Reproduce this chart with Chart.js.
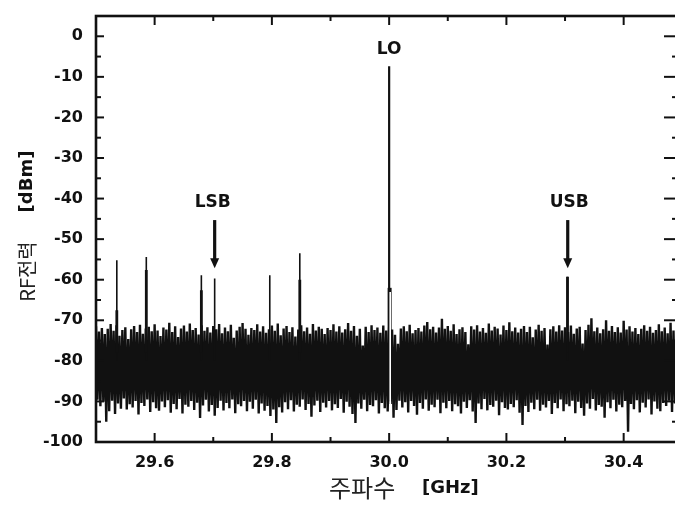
<!DOCTYPE html>
<html><head><meta charset="utf-8">
<script src="https://cdn.jsdelivr.net/npm/chart.js@4.4.0/dist/chart.umd.min.js"></script>
<style>html,body{margin:0;padding:0;background:#fff;overflow:hidden;width:675px;height:509px}canvas{display:block}</style>
</head><body>
<canvas id="c" width="684" height="509"></canvas>
<script>
// ---------------- data ----------------
const freqStart = 29.5;     // GHz, first noise sample
const freqStep = 0.005;     // GHz between noise samples
const noiseTop = [
-71.5,-72.8,-71.9,-73.4,-72.1,-70.9,-72.6,-71.2,-73.8,-72.4,-71.7,-74.6,-72.2,-71.4,-72.9,-71.1,-73.3,-72.0,-71.6,-72.7,
-71.0,-72.5,-73.9,-71.8,-72.3,-70.6,-72.9,-71.5,-74.1,-72.0,-71.3,-72.8,-70.8,-72.4,-71.9,-73.5,-71.2,-72.6,-71.7,-73.0,
-71.4,-72.2,-70.9,-73.2,-71.8,-72.7,-71.1,-74.3,-72.5,-71.6,-70.7,-72.1,-73.6,-71.9,-72.4,-71.0,-72.8,-71.5,-73.1,-72.2,
-71.3,-72.6,-70.8,-73.7,-72.0,-71.4,-72.9,-71.7,-74.0,-72.3,-71.2,-72.7,-71.8,-73.3,-70.9,-72.5,-71.6,-72.1,-73.4,-71.9,
-72.4,-71.0,-72.8,-71.5,-73.0,-72.2,-70.7,-72.6,-71.4,-73.8,-72.1,-76.2,-71.6,-72.9,-71.2,-72.4,-71.8,-73.1,-71.3,-72.5,
-71.7,-72.3,-73.6,-75.8,-72.0,-71.5,-72.7,-71.1,-73.2,-72.4,-71.9,-72.8,-71.3,-70.4,-72.2,-71.6,-73.0,-71.8,-69.6,-72.1,
-71.4,-72.6,-71.0,-73.4,-72.2,-71.7,-72.9,-75.9,-71.5,-72.3,-71.2,-72.8,-71.9,-73.1,-70.8,-72.5,-71.6,-72.0,-73.5,-71.3,
-72.4,-70.5,-72.7,-71.8,-73.0,-72.1,-71.4,-72.9,-71.6,-74.2,-72.3,-71.1,-72.6,-71.9,-76.0,-72.2,-71.5,-72.8,-71.2,-72.5,
-71.7,-72.9,-71.3,-73.3,-72.0,-71.6,-75.7,-72.4,-71.1,-69.5,-72.7,-71.8,-73.2,-72.2,-70.0,-72.6,-71.4,-72.9,-71.7,-73.0,
-70.1,-72.3,-71.5,-72.8,-71.9,-73.4,-72.1,-71.2,-72.6,-71.6,-73.1,-72.4,-71.0,-72.7,-71.8,-73.2,-70.6,-72.5,-71.4,-72.0
];
const noiseBottom = [
-89.6,-91.2,-90.1,-95.0,-92.4,-89.8,-93.1,-90.5,-91.8,-89.3,-92.0,-90.7,-91.5,-89.9,-93.2,-90.4,-91.1,-89.5,-92.6,-90.2,
-91.7,-92.3,-90.0,-91.4,-89.7,-92.8,-90.6,-91.9,-89.4,-93.0,-90.8,-91.3,-89.9,-92.1,-90.3,-94.1,-91.0,-89.6,-92.5,-90.9,
-93.5,-91.6,-89.8,-92.2,-90.4,-91.7,-89.5,-92.9,-90.7,-91.2,-89.9,-92.4,-90.1,-91.8,-89.6,-93.0,-90.5,-92.3,-91.1,-93.6,
-92.0,-95.3,-91.4,-92.7,-90.2,-91.9,-89.7,-92.5,-90.8,-91.3,-89.5,-92.1,-90.6,-93.8,-91.0,-89.8,-92.6,-90.3,-91.5,-89.9,
-92.2,-90.7,-91.6,-89.4,-92.8,-90.1,-91.3,-93.1,-95.3,-90.5,-91.8,-89.6,-92.4,-90.9,-91.2,-89.7,-93.0,-90.4,-91.7,-92.5,
-90.6,-94.0,-92.1,-89.8,-91.5,-90.2,-92.7,-89.9,-91.1,-93.3,-90.4,-91.8,-89.5,-92.3,-90.8,-91.4,-89.6,-92.9,-90.3,-91.7,
-89.9,-92.4,-90.7,-91.2,-93.0,-90.1,-91.6,-89.7,-92.5,-95.3,-90.5,-91.9,-89.4,-92.2,-90.9,-91.3,-89.8,-93.4,-90.2,-91.6,
-92.0,-90.6,-91.4,-89.7,-92.8,-95.8,-91.1,-92.6,-90.3,-91.9,-89.6,-92.3,-90.8,-91.5,-89.9,-93.1,-90.4,-91.7,-89.5,-92.4,
-90.7,-91.2,-89.8,-92.9,-90.1,-91.6,-93.5,-90.5,-91.8,-89.4,-92.2,-90.9,-91.3,-94.0,-90.2,-91.7,-89.6,-92.5,-90.8,-91.4,
-89.9,-97.5,-90.6,-91.9,-89.7,-92.7,-90.3,-91.5,-89.5,-93.2,-90.0,-91.8,-92.4,-90.4,-91.1,-89.8,-92.6,-90.5,-91.3,-89.6
];
const spikeFreq     = [29.5355, 29.5858, 29.6797, 29.7024, 29.7964, 29.8476, 30.3042];
const spikeLevel    = [-55.2,   -54.4,   -58.9,   -59.7,   -58.9,   -53.5,   -59.3];
const spikeShoulder = [-67.5,   -57.6,   -62.6,   null,    null,    -60.0,   -59.3];
const loFreq = 30.0;
const loLevel = -7.4;
const loNotch = [-63, -93];       // white gap in the noise next to the LO
const xTickValues = [29.6, 29.8, 30.0, 30.2, 30.4];
const xMinorValues = [29.5, 29.7, 29.9, 30.1, 30.3];
const yTickValues = [0, -10, -20, -30, -40, -50, -60, -70, -80, -90, -100];
const yMinorValues = [-5, -15, -25, -35, -45, -55, -65, -75, -85, -95];
const markerTexts = ['LO', 'LSB', 'USB'];
const arrowFreq = [29.7024, 30.3046];

// ---------------- build datasets ----------------
const noisePts = [];
for (let i = 0; i < noiseTop.length; i++) {
  noisePts.push({x: freqStart + i * freqStep, y: noiseTop[i]});
  noisePts.push({x: freqStart + (i + 0.5) * freqStep, y: noiseBottom[i]});
}
const spikePts = [], shoulderPts = [];
spikeFreq.forEach((f, i) => {
  spikePts.push({x: f, y: -80}, {x: f, y: spikeLevel[i]}, {x: f, y: null});
  if (spikeShoulder[i] !== null) shoulderPts.push({x: f, y: -78}, {x: f, y: spikeShoulder[i]}, {x: f, y: null});
});
const loPts = [{x: loFreq, y: -82}, {x: loFreq, y: loLevel}];
const loWidePts = [{x: loFreq + 0.0008, y: -90}, {x: loFreq + 0.0008, y: -62}];
const notchPts = [{x: loFreq + 0.0018, y: loNotch[0]}, {x: loFreq + 0.0018, y: loNotch[1]}];

const INK = '#111';
const X_MIN = 29.5, X_MAX = 30.4995, Y_MIN = -100, Y_MAX = 5;

// ---------------- plugins ----------------
const framePlugin = {
  id: 'frame',
  afterDraw(chart) {
    const {ctx, chartArea: a, scales: {x, y}} = chart;
    ctx.save();
    ctx.strokeStyle = INK;
    ctx.lineCap = 'butt';
    ctx.lineWidth = 2;
    const tk = (x1, y1, x2, y2) => { ctx.beginPath(); ctx.moveTo(x1, y1); ctx.lineTo(x2, y2); ctx.stroke(); };
    xTickValues.forEach(v => { const p = x.getPixelForValue(v); tk(p, a.bottom, p, a.bottom - 9); tk(p, a.top, p, a.top + 9); });
    xMinorValues.forEach(v => { const p = x.getPixelForValue(v); tk(p, a.bottom, p, a.bottom - 5); tk(p, a.top, p, a.top + 5); });
    yTickValues.forEach(v => { const p = y.getPixelForValue(v); tk(a.left, p, a.left + 8, p); tk(a.right, p, a.right - 18, p); });
    yMinorValues.forEach(v => { const p = y.getPixelForValue(v); tk(a.left, p, a.left + 5, p); tk(a.right, p, a.right - 10, p); });
    ctx.lineWidth = 2.6;
    ctx.strokeRect(a.left, a.top, a.right - a.left, a.bottom - a.top);
    ctx.restore();
  }
};

const notePlugin = {
  id: 'notes',
  afterDraw(chart) {
    const {ctx, scales: {x, y}} = chart;
    ctx.save();
    ctx.fillStyle = INK;
    ctx.textAlign = 'center';
    ctx.textBaseline = 'middle';
    ctx.font = 'bold 17px "DejaVu Sans"';
    const notePos = [[30.0, -3.3], [29.699, -41.1], [30.307, -40.9]];
    markerTexts.forEach((t, i) => ctx.fillText(t, x.getPixelForValue(notePos[i][0]), y.getPixelForValue(notePos[i][1])));
    arrowFreq.forEach(f => {
      const px = x.getPixelForValue(f);
      const y1 = y.getPixelForValue(-45.3), y2 = y.getPixelForValue(-57.2);
      ctx.strokeStyle = INK; ctx.lineWidth = 3.2;
      ctx.beginPath(); ctx.moveTo(px, y1); ctx.lineTo(px, y2 - 8); ctx.stroke();
      ctx.beginPath(); ctx.moveTo(px - 4.5, y2 - 10); ctx.lineTo(px + 4.5, y2 - 10); ctx.lineTo(px, y2); ctx.closePath(); ctx.fill();
    });
    ctx.textBaseline = 'middle';
    ctx.textAlign = 'left';
    ctx.font = '24px "Noto Sans CJK KR"';
    ctx.fillStyle = '#222';
    ctx.fillText('주파수', 329, 488);
    ctx.font = 'bold 18px "DejaVu Sans"';
    ctx.fillStyle = INK;
    ctx.fillText('[GHz]', 422, 488);
    ctx.translate(27, 0);
    ctx.rotate(-Math.PI / 2);
    ctx.font = '20px "Noto Sans CJK KR"';
    ctx.fillStyle = '#222';
    ctx.textAlign = 'center';
    ctx.fillText('RF전력', -271.5, 0);
    ctx.font = 'bold 18px "DejaVu Sans"';
    ctx.fillStyle = INK;
    ctx.fillText('[dBm]', -181.5, 0);
    ctx.restore();
  }
};

const lineDs = (data, color, width, order, join) => ({
  data, borderColor: color, borderWidth: width, pointRadius: 0, tension: 0,
  spanGaps: false, fill: false, order, borderJoinStyle: join || 'miter'
});

new Chart(document.getElementById('c'), {
  type: 'line',
  data: {
    datasets: [
      lineDs(notchPts, '#ffffff', 1.6, 0),
      lineDs(loPts, INK, 2.2, 1),
      lineDs(loWidePts, INK, 4, 2),
      lineDs(shoulderPts, INK, 2.8, 3),
      lineDs(spikePts, INK, 1.6, 4),
      lineDs(noisePts, INK, 2.4, 5, 'bevel')
    ]
  },
  options: {
    responsive: false,
    animation: false,
    events: [],
    layout: {padding: {left: 0, right: 2, top: 16, bottom: 0}},
    plugins: {legend: {display: false}, tooltip: {enabled: false}},
    scales: {
      x: {
        type: 'linear', min: X_MIN, max: X_MAX,
        grid: {display: false, drawTicks: false}, border: {display: false},
        afterFit(s) { s.height = 67; s.paddingLeft = 0; s.paddingRight = 0; },
        afterBuildTicks(s) { s.ticks = xTickValues.map(v => ({value: v})); },
        ticks: {color: INK, font: {family: 'DejaVu Sans', size: 16, weight: 'bold'}, padding: 11, maxRotation: 0,
          autoSkip: false, callback: v => Number(v).toFixed(1)}
      },
      y: {
        type: 'linear', min: Y_MIN, max: Y_MAX,
        grid: {display: false, drawTicks: false}, border: {display: false},
        afterFit(s) { s.width = 96; s.paddingTop = 0; s.paddingBottom = 0; },
        afterBuildTicks(s) { s.ticks = yTickValues.map(v => ({value: v})); },
        ticks: {color: INK, font: {family: 'DejaVu Sans', size: 16, weight: 'bold'}, padding: 13, autoSkip: false,
          callback: v => String(v)}
      }
    }
  },
  plugins: [framePlugin, notePlugin]
});
</script>
</body></html>
